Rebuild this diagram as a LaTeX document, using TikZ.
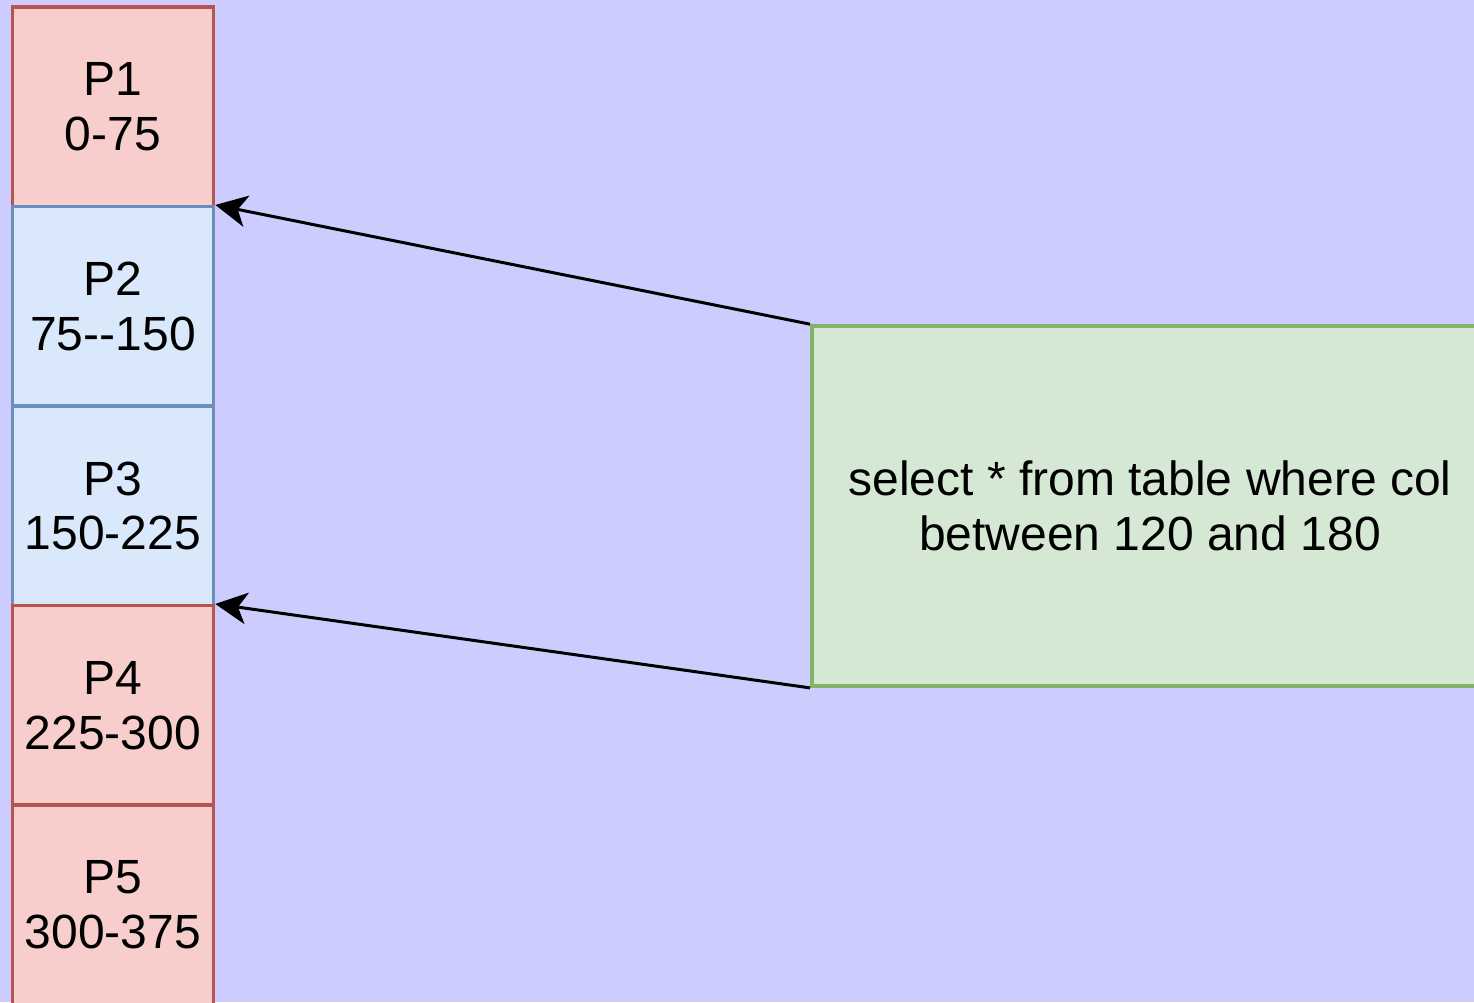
\documentclass[tikz,border=0pt]{standalone}
\usepackage{fontspec}
\setmainfont{Liberation Sans}
\usetikzlibrary{arrows.meta}
\definecolor{bgc}{HTML}{CCCCFF}
\definecolor{redfill}{HTML}{F8CECC}
\definecolor{redline}{HTML}{B85450}
\definecolor{bluefill}{HTML}{DAE8FC}
\definecolor{blueline}{HTML}{6C8EBF}
\definecolor{greenfill}{HTML}{D5E8D4}
\definecolor{greenline}{HTML}{82B366}
\begin{document}
\begin{tikzpicture}[x=0.01cm,y=-0.01cm,
  lbl/.style={font=\fontsize{13.65}{15.6}\selectfont, align=center, text=black},
  part/.style={lbl, draw, line width=1pt, minimum width=2.01cm, minimum height=1.995cm, inner sep=0pt},
  redpart/.style={part, fill=redfill, draw=redline},
  bluepart/.style={part, fill=bluefill, draw=blueline},
  query/.style={lbl, draw=greenline, fill=greenfill, line width=1pt, minimum width=6.76cm, minimum height=3.6cm, inner sep=0pt},
  conn/.style={line width=0.85pt, -{Stealth[length=9pt,width=9pt,inset=2.5pt]}}]
\useasboundingbox (0,0) rectangle (1474,1002);
\clip (0,0) rectangle (1474,1002);
\fill[bgc] (0,0) rectangle (1474,1002);
\node[redpart]  (P1) at (113,107) {P1\\0-75};
\node[bluepart] (P2) at (113,306.5) {P2\\75-{}-150};
\node[bluepart] (P3) at (113,506) {P3\\150-225};
\node[redpart]  (P4) at (113,705.5) {P4\\225-300};
\node[redpart]  (P5) at (113,905) {P5\\300-375};
\node[query] (Q) at (1150,506) {select * from table where col\\between 120 and 180};
\draw[conn] (Q.north west) -- (P2.north east);
\draw[conn] (Q.south west) -- (P4.north east);
\end{tikzpicture}
\end{document}
